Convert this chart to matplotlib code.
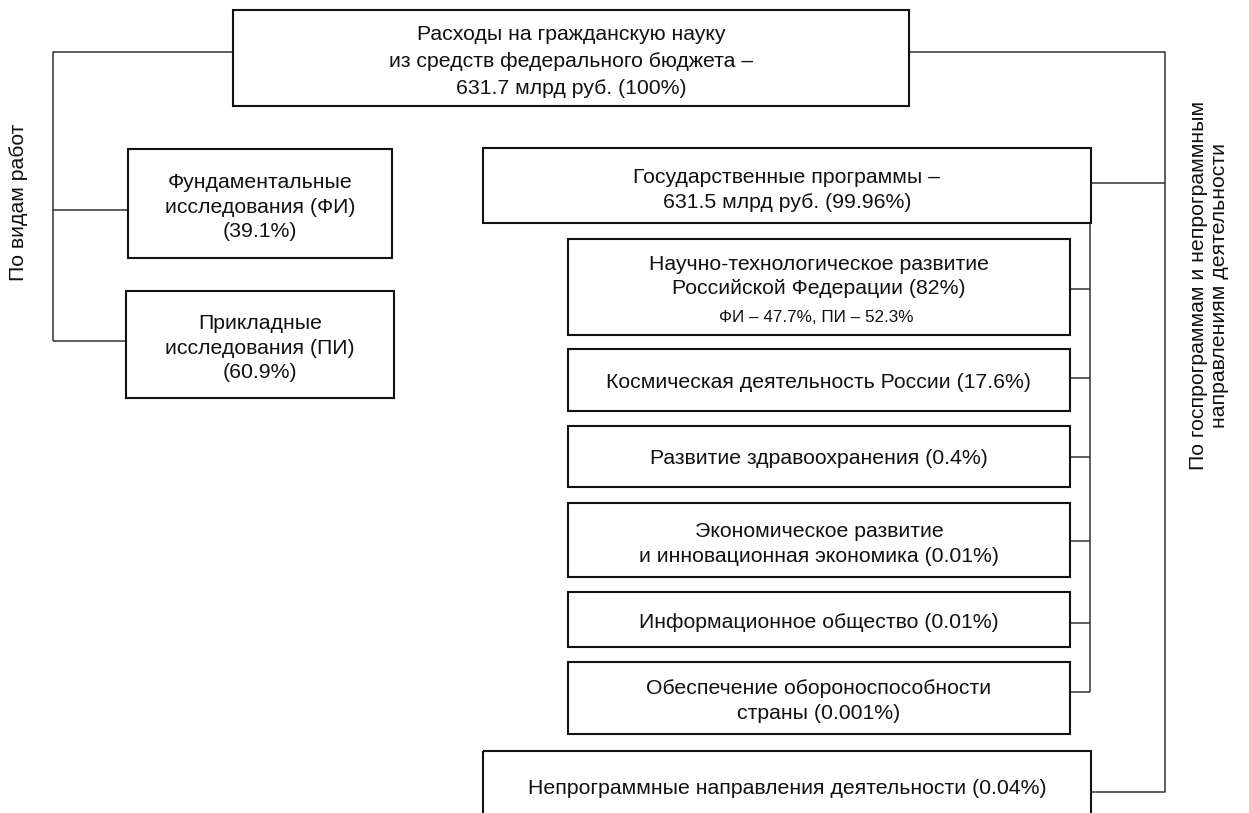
import matplotlib
matplotlib.use("Agg")
import matplotlib.pyplot as plt
from matplotlib.patches import Rectangle

plt.rcParams['font.family'] = ['Liberation Sans', 'DejaVu Sans']

# ---- data (labels / values) ----
top_label = ["Расходы на гражданскую науку", "из средств федерального бюджета –", "631.7 млрд руб. (100%)"]
type_labels = [["Фундаментальные", "исследования (ФИ)", "(39.1%)"],
               ["Прикладные", "исследования (ПИ)", "(60.9%)"]]
gov_label = ["Государственные программы –", "631.5 млрд руб. (99.96%)"]
program_labels = [["Научно-технологическое развитие", "Российской Федерации (82%)"],
                  ["Космическая деятельность России (17.6%)"],
                  ["Развитие здравоохранения (0.4%)"],
                  ["Экономическое развитие", "и инновационная экономика (0.01%)"],
                  ["Информационное общество (0.01%)"],
                  ["Обеспечение обороноспособности", "страны (0.001%)"]]
program_sub_note = "ФИ – 47.7%, ПИ – 52.3%"
nonprog_label = ["Непрограммные направления деятельности (0.04%)"]
left_side_label = "По видам работ"
right_side_label = "По госпрограммам и непрограммным\nнаправлениям деятельности"

# ---- layout (pixel coordinates, y downwards) ----
W, H = 1249, 813
fig = plt.figure(figsize=(W / 100, H / 100), dpi=100)
ax = fig.add_axes([0, 0, 1, 1])
ax.set_xlim(0, W)
ax.set_ylim(H, 0)
ax.axis('off')

BOX_LW = 1.5
CON_LW = 1.1
CON_C = '#333333'
FS = 15.3
DY = 1.5


def box(x0, y0, x1, y1):
    ax.add_patch(Rectangle((x0, y0), x1 - x0, y1 - y0, fill=False,
                           edgecolor='#111111', linewidth=BOX_LW, zorder=3))


def lines(cx, ys, texts, fs=FS):
    for y, t in zip(ys, texts):
        ax.text(cx, y + DY, t, ha='center', va='center', fontsize=fs, color='#111111', zorder=4)


def con(xs, ys):
    ax.plot(xs, ys, color=CON_C, linewidth=CON_LW, solid_capstyle='butt', zorder=2)


# top box
box(233, 10, 909, 106)
lines(571, [33, 60, 87], top_label)

# types of work
type_boxes = [(128, 149, 392, 258), (126, 291, 394, 398)]
type_ys = [[181, 206, 230], [322, 347, 371]]
for b, ys, lab in zip(type_boxes, type_ys, type_labels):
    box(*b)
    lines((b[0] + b[2]) / 2, ys, lab)

# gov programs
box(483, 148, 1091, 223)
lines(787, [176, 201], gov_label)

prog_boxes = [(568, 239, 1070, 335), (568, 349, 1070, 411), (568, 426, 1070, 487),
              (568, 503, 1070, 577), (568, 592, 1070, 647), (568, 662, 1070, 734)]
prog_ys = [[263, 287], [381], [457], [530, 555], [621], [687, 712]]
prog_con_y = [289, 378, 457, 541, 623, 692]
for b, ys, lab in zip(prog_boxes, prog_ys, program_labels):
    box(*b)
    lines((b[0] + b[2]) / 2, ys, lab)
lines(816, [316], [program_sub_note], fs=12.3)

# non-program
box(483, 751, 1091, 835)
lines(787, [787], nonprog_label)

# connectors left
con([233, 53, 53], [52, 52, 341])
con([53, 128], [210, 210])
con([53, 126], [341, 341])

# connectors right
con([909, 1165, 1165, 1091], [52, 52, 792, 792])
con([1091, 1165], [183, 183])

# inner connectors
con([1090, 1090], [223, 692])
for y in prog_con_y:
    con([1070, 1090], [y, y])

# side labels
ax.text(19, 202, left_side_label, rotation=90, ha='center', va='center', fontsize=FS, color='#111111')
ax.text(1209, 285, right_side_label, rotation=90, ha='center', va='center', fontsize=FS,
        color='#111111', multialignment='center', linespacing=1.13)

fig.savefig('out.png', dpi=100)
